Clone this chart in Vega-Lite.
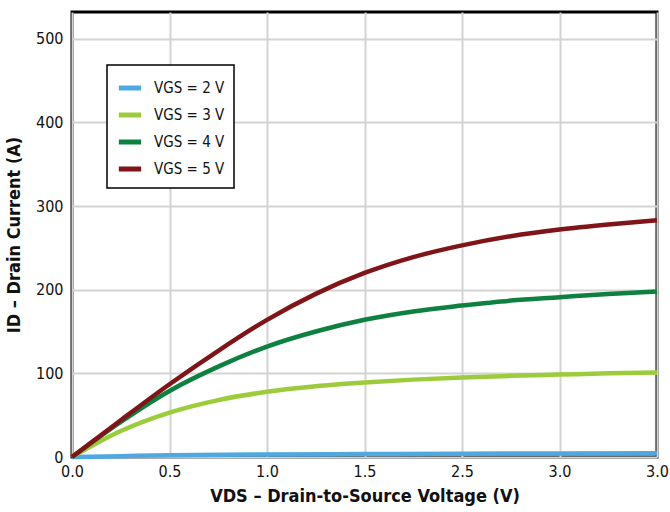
{
  "$schema": "https://vega.github.io/schema/vega-lite/v6.json",
  "width": 585,
  "height": 445,
  "autosize": {"type": "none"},
  "padding": {"left": 72, "top": 12, "right": 13, "bottom": 55},
  "background": "white",
  "config": {
    "font": "Liberation Sans Narrow, DejaVu Sans Condensed, Roboto Condensed, Roboto, sans-serif",
    "view": {"stroke": "black", "strokeWidth": 3},
    "axis": {
      "domain": false,
      "ticks": false,
      "gridColor": "#d3d3d3",
      "gridWidth": 2,
      "labelFont": "Liberation Sans Narrow, DejaVu Sans Condensed, Roboto Condensed, Roboto, sans-serif",
      "labelFontSize": 16,
      "labelColor": "#111",
      "titleFont": "Liberation Sans Narrow, DejaVu Sans Condensed, Roboto Condensed, Roboto, sans-serif",
      "titleFontSize": 18,
      "titleFontWeight": "bold",
      "titleColor": "#111"
    },
    "legend": {
      "labelFont": "Liberation Sans Narrow, DejaVu Sans Condensed, Roboto Condensed, Roboto, sans-serif"
    }
  },
  "data": {
    "values": [
      {"vds": 0, "id": 0, "s": "VGS = 2 V"},
      {"vds": 0.25, "id": 1, "s": "VGS = 2 V"},
      {"vds": 0.5, "id": 2, "s": "VGS = 2 V"},
      {"vds": 1.0, "id": 3, "s": "VGS = 2 V"},
      {"vds": 1.5, "id": 3.5, "s": "VGS = 2 V"},
      {"vds": 2.0, "id": 4, "s": "VGS = 2 V"},
      {"vds": 2.5, "id": 4.2, "s": "VGS = 2 V"},
      {"vds": 3.0, "id": 4.5, "s": "VGS = 2 V"},
      {"vds": 0, "id": 0, "s": "VGS = 3 V"},
      {"vds": 0.25, "id": 31, "s": "VGS = 3 V"},
      {"vds": 0.5, "id": 53, "s": "VGS = 3 V"},
      {"vds": 0.75, "id": 68, "s": "VGS = 3 V"},
      {"vds": 1.0, "id": 78, "s": "VGS = 3 V"},
      {"vds": 1.25, "id": 84.5, "s": "VGS = 3 V"},
      {"vds": 1.5, "id": 89, "s": "VGS = 3 V"},
      {"vds": 1.75, "id": 92.5, "s": "VGS = 3 V"},
      {"vds": 2.0, "id": 95, "s": "VGS = 3 V"},
      {"vds": 2.25, "id": 97, "s": "VGS = 3 V"},
      {"vds": 2.5, "id": 98.5, "s": "VGS = 3 V"},
      {"vds": 2.75, "id": 100, "s": "VGS = 3 V"},
      {"vds": 3.0, "id": 101, "s": "VGS = 3 V"},
      {"vds": 0, "id": 0, "s": "VGS = 4 V"},
      {"vds": 0.25, "id": 42, "s": "VGS = 4 V"},
      {"vds": 0.5, "id": 79, "s": "VGS = 4 V"},
      {"vds": 0.75, "id": 108, "s": "VGS = 4 V"},
      {"vds": 1.0, "id": 132, "s": "VGS = 4 V"},
      {"vds": 1.25, "id": 150, "s": "VGS = 4 V"},
      {"vds": 1.5, "id": 164, "s": "VGS = 4 V"},
      {"vds": 1.75, "id": 174, "s": "VGS = 4 V"},
      {"vds": 2.0, "id": 181, "s": "VGS = 4 V"},
      {"vds": 2.25, "id": 187, "s": "VGS = 4 V"},
      {"vds": 2.5, "id": 191, "s": "VGS = 4 V"},
      {"vds": 2.75, "id": 195, "s": "VGS = 4 V"},
      {"vds": 3.0, "id": 198, "s": "VGS = 4 V"},
      {"vds": 0, "id": 0, "s": "VGS = 5 V"},
      {"vds": 0.25, "id": 44, "s": "VGS = 5 V"},
      {"vds": 0.5, "id": 87, "s": "VGS = 5 V"},
      {"vds": 0.75, "id": 127, "s": "VGS = 5 V"},
      {"vds": 1.0, "id": 164, "s": "VGS = 5 V"},
      {"vds": 1.25, "id": 195, "s": "VGS = 5 V"},
      {"vds": 1.5, "id": 220, "s": "VGS = 5 V"},
      {"vds": 1.75, "id": 239, "s": "VGS = 5 V"},
      {"vds": 2.0, "id": 253, "s": "VGS = 5 V"},
      {"vds": 2.25, "id": 264, "s": "VGS = 5 V"},
      {"vds": 2.5, "id": 272, "s": "VGS = 5 V"},
      {"vds": 2.75, "id": 278, "s": "VGS = 5 V"},
      {"vds": 3.0, "id": 283, "s": "VGS = 5 V"}
    ]
  },
  "mark": {"type": "line", "strokeWidth": 4.5, "interpolate": "monotone", "strokeCap": "butt"},
  "encoding": {
    "x": {
      "field": "vds",
      "type": "quantitative",
      "scale": {"domain": [0, 3], "nice": false, "zero": false},
      "axis": {
        "values": [0, 0.5, 1, 1.5, 2, 2.5, 3],
        "format": ".1f",
        "labelExpr": "datum.value == 2 ? '2.5' : (datum.value == 2.5 ? '3.0' : datum.label)",
        "labelFlush": false,
        "labelPadding": 6,
        "title": "VDS – Drain-to-Source Voltage (V)",
        "titlePadding": 8
      }
    },
    "y": {
      "field": "id",
      "type": "quantitative",
      "scale": {"domain": [0, 532], "nice": false},
      "axis": {
        "values": [0, 100, 200, 300, 400, 500],
        "labelPadding": 9,
        "title": "ID – Drain Current (A)",
        "titlePadding": 12
      }
    },
    "color": {
      "field": "s",
      "type": "nominal",
      "scale": {
        "domain": ["VGS = 2 V", "VGS = 3 V", "VGS = 4 V", "VGS = 5 V"],
        "range": ["#4FA8DF", "#9CCB3B", "#0E8040", "#7F1518"]
      },
      "legend": {
        "title": null,
        "orient": "none",
        "legendX": 35,
        "legendY": 53,
        "strokeColor": "black",
        "fillColor": "white",
        "padding": 9,
        "symbolType": "stroke",
        "symbolStrokeWidth": 5,
        "symbolSize": 500,
        "labelFontSize": 15,
        "labelColor": "#111",
        "rowPadding": 3,
        "labelOffset": 10,
        "encode": {"legend": {"update": {"strokeWidth": {"value": 1.5}}}}
      }
    }
  }
}
